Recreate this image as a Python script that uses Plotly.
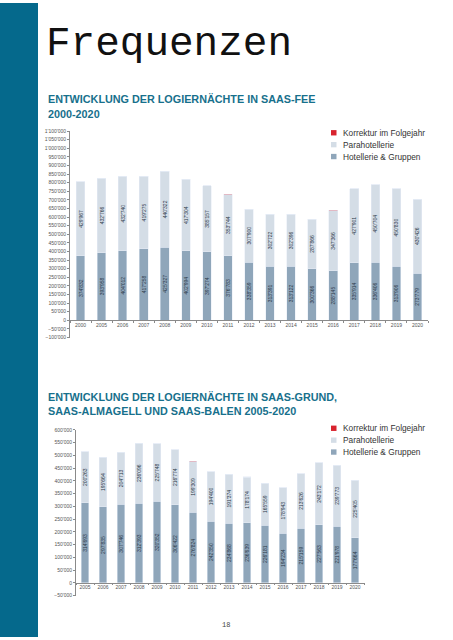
import plotly.graph_objects as go

W, H = 453, 640

# ---------- data ----------
years_fee = ["2000", "2005", "2006", "2007", "2008", "2009", "2010", "2011", "2012",
             "2013", "2014", "2015", "2016", "2017", "2018", "2019", "2020"]
hotel_fee = [374832, 393958, 404012, 417258, 425327, 402994, 397274, 376783, 338359,
             313391, 313122, 300366, 288145, 335914, 336406, 313906, 273779]
para_fee = [429967, 432766, 432740, 419275, 440322, 417304, 385157, 353744, 307900,
            302722, 302396, 287866, 347366, 427901, 450704, 450830, 430426]
korr_fee = [0, 0, 0, 0, 0, 0, 0, 2500, 0, 0, 0, 0, 4000, 1500, 0, 1000, 0]

years_grund = ["2005", "2006", "2007", "2008", "2009", "2010", "2011", "2012",
               "2013", "2014", "2015", "2016", "2017", "2018", "2019", "2020"]
hotel_grund = [314693, 297835, 307746, 312393, 320352, 306422, 276824, 242350,
               234868, 236639, 226181, 194234, 215159, 227563, 221978, 177664]
para_grund = [200263, 195664, 204713, 236096, 225748, 216774, 199309, 194400,
              191374, 178174, 165559, 178943, 213626, 243172, 239773, 225405]
korr_grund = [0, 0, 0, 0, 0, 0, 1500, 0, 0, 2000, 0, 0, 0, 0, 0, 0]

ticks_fee = list(range(-100000, 1100001, 50000))
ticks_grund = list(range(-50000, 600001, 50000))

legend_labels = ["Korrektur im Folgejahr", "Parahotellerie", "Hotellerie & Gruppen"]

# ---------- style ----------
C_HOTEL = "#8fa6ba"
C_PARA = "#d4dde6"
C_KORR = "#d8232e"
C_TEAL = "#05698c"
C_HEAD = "#17708c"
C_AX = "#8a8a8a"
C_TICK = "#555555"
C_BARTXT = "#2a3848"


def fmt(v):
    return f"{v:,}".replace(",", "'")


def px_x(p):
    return p / W


def px_y(p):
    return 1 - p / H


fig = go.Figure()


def add_chart(years, hotel, para, korr, xa, ya, width):
    fig.add_trace(go.Bar(x=years, y=hotel, marker_color=C_HOTEL, width=width,
                         text=[fmt(v) for v in hotel], textposition="inside",
                         insidetextanchor="middle", textangle=-90,
                         textfont=dict(size=5, color=C_BARTXT, family="Liberation Sans"),
                         xaxis=xa, yaxis=ya, showlegend=False))
    fig.add_trace(go.Bar(x=years, y=para, marker_color=C_PARA, width=width,
                         text=[fmt(v) for v in para], textposition="inside",
                         insidetextanchor="middle", textangle=-90,
                         textfont=dict(size=5, color=C_BARTXT, family="Liberation Sans"),
                         xaxis=xa, yaxis=ya, showlegend=False))
    fig.add_trace(go.Bar(x=years, y=korr, marker_color=C_KORR, width=width,
                         xaxis=xa, yaxis=ya, showlegend=False))


add_chart(years_fee, hotel_fee, para_fee, korr_fee, "x", "y", 0.41)
add_chart(years_grund, hotel_grund, para_grund, korr_grund, "x2", "y2", 0.39)

tickfont = dict(size=5, color=C_TICK, family="Liberation Sans")

# chart geometry (pixels)
y1_top, y1_bot, y1_zero = 129.3, 337.7, 320.3
y2_top, y2_bot, y2_zero = 431.0, 598.3, 585.0

common_y = dict(showgrid=False, zeroline=False, showline=True, linecolor=C_AX, linewidth=0.8,
                ticks="outside", ticklen=2, tickcolor=C_AX, tickwidth=0.6, tickfont=tickfont,
                tickformat=",d")
common_x = dict(type="category", showgrid=False, zeroline=False, showline=True, linecolor=C_AX,
                linewidth=0.8, ticks="outside", ticklen=2, tickcolor=C_AX, tickwidth=0.6,
                tickson="boundaries", tickfont=tickfont, anchor="free", tickangle=0)

fig.update_layout(
    width=W, height=H, margin=dict(l=0, r=0, t=0, b=0),
    paper_bgcolor="white", plot_bgcolor="rgba(0,0,0,0)",
    barmode="stack", separators=".'",
    uniformtext=dict(minsize=5, mode="show"),
    xaxis=dict(domain=[px_x(70), px_x(428)], position=px_y(y1_zero), **common_x),
    yaxis=dict(domain=[px_y(y1_bot), px_y(y1_top)], range=[-100000, 1100000],
               tickvals=ticks_fee, anchor="x", **common_y),
    xaxis2=dict(domain=[px_x(76), px_x(364)], position=px_y(y2_zero), **common_x),
    yaxis2=dict(domain=[px_y(y2_bot), px_y(y2_top)], range=[-50000, 600000],
                tickvals=ticks_grund, anchor="x2", **common_y),
)

shapes = [dict(type="rect", xref="paper", yref="paper", x0=0, x1=px_x(38), y0=0, y1=1,
               fillcolor=C_TEAL, line_width=0, layer="below")]
annotations = []

# titles
annotations.append(dict(text="Frequenzen", xref="paper", yref="paper", x=px_x(44), y=px_y(16),
                        xanchor="left", yanchor="top", showarrow=False,
                        font=dict(family="Liberation Mono", size=41, color="#111111")))


def head(text, ypx):
    annotations.append(dict(text=f"<b>{text}</b>", xref="paper", yref="paper", x=px_x(46),
                            y=px_y(ypx), xanchor="left", yanchor="middle", showarrow=False,
                            font=dict(family="Liberation Sans", size=10.8, color=C_HEAD)))


head("ENTWICKLUNG DER LOGIERNÄCHTE IN SAAS-FEE", 96.7)
head("2000-2020", 112.0)
head("ENTWICKLUNG DER LOGIERNÄCHTE IN SAAS-GRUND,", 397.3)
head("SAAS-ALMAGELL UND SAAS-BALEN 2005-2020", 411.7)

# legends
legend_colors = [C_KORR, C_PARA, C_HOTEL]


def legend(top):
    for i, (lab, col) in enumerate(zip(legend_labels, legend_colors)):
        yc = top + 12 * i
        shapes.append(dict(type="rect", xref="paper", yref="paper",
                           x0=px_x(331), x1=px_x(336.5), y0=px_y(yc + 2.7), y1=px_y(yc - 2.7),
                           fillcolor=col, line_width=0))
        annotations.append(dict(text=lab, xref="paper", yref="paper", x=px_x(340.5), y=px_y(yc),
                                xanchor="left", yanchor="middle", showarrow=False,
                                font=dict(family="Liberation Sans", size=8.3, color="#333333")))


legend(131.0)
legend(429.3)

annotations.append(dict(text="18", xref="paper", yref="paper", x=px_x(226), y=px_y(628),
                        xanchor="center", yanchor="middle", showarrow=False,
                        font=dict(family="Liberation Mono", size=7, color="#444444")))

fig.update_layout(shapes=shapes, annotations=annotations)
fig.write_html("out.html", config={"displayModeBar": False},
               post_script="document.body.style.margin='0';")
